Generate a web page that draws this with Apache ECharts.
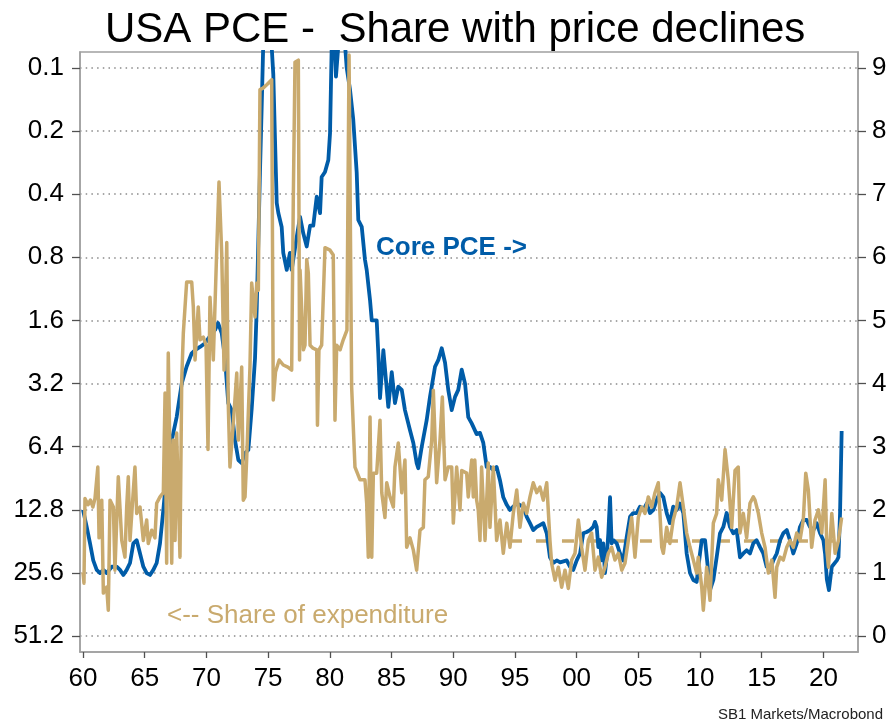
<!DOCTYPE html>
<html>
<head>
<meta charset="utf-8">
<title>USA PCE - Share with price declines</title>
<script src="https://cdn.jsdelivr.net/npm/echarts@6/dist/echarts.min.js"></script>
<style>
  html, body { margin: 0; padding: 0; background: #ffffff; }
  #chart { width: 889px; height: 723px; }
</style>
</head>
<body>
<div id="chart"></div>
<script>
// Core PCE inflation, % y/y (right axis)
const coreYears = [
  1960.00, 1960.30, 1960.57, 1960.83, 1961.11, 1961.38, 1961.65, 1961.92, 1962.33, 1962.73,
  1963.00, 1963.27, 1963.54, 1963.81, 1964.08, 1964.35, 1964.62, 1964.89, 1965.16, 1965.43,
  1965.70, 1965.97, 1966.24, 1966.51, 1966.78, 1967.19, 1967.59, 1968.00, 1968.40, 1968.81,
  1969.08, 1969.48, 1969.89, 1970.29, 1970.70, 1970.94, 1971.24, 1971.51, 1971.77, 1972.05,
  1972.32, 1972.59, 1972.86, 1973.13, 1973.40, 1973.67, 1973.94, 1974.08, 1974.21, 1974.34,
  1974.48, 1974.61, 1974.83, 1975.15, 1975.42, 1975.56, 1975.70, 1975.83, 1976.10, 1976.23,
  1976.51, 1976.77, 1976.91, 1977.32, 1977.59, 1977.85, 1978.13, 1978.40, 1978.66, 1978.94,
  1979.21, 1979.34, 1979.61, 1979.88, 1980.02, 1980.15, 1980.34, 1980.50, 1980.75, 1981.07,
  1981.37, 1981.64, 1981.90, 1982.18, 1982.31, 1982.59, 1982.85, 1982.99, 1983.26, 1983.40,
  1983.80, 1983.93, 1984.07, 1984.34, 1984.74, 1985.02, 1985.28, 1985.55, 1985.83, 1986.09,
  1986.50, 1986.77, 1987.04, 1987.17, 1987.45, 1987.85, 1988.12, 1988.53, 1988.79, 1989.07,
  1989.34, 1989.60, 1989.88, 1990.15, 1990.41, 1990.69, 1990.96, 1991.22, 1991.50, 1991.90,
  1992.17, 1992.44, 1992.71, 1992.98, 1993.25, 1993.52, 1993.79, 1994.06, 1994.34, 1994.60,
  1994.87, 1995.15, 1995.68, 1995.96, 1996.22, 1996.49, 1996.77, 1997.03, 1997.30, 1997.58,
  1997.84, 1998.11, 1998.39, 1998.66, 1999.20, 1999.46, 1999.73, 2000.01, 2000.28, 2000.54,
  2000.82, 2001.09, 2001.35, 2001.49, 2001.63, 2001.76, 2001.90, 2002.03, 2002.16, 2002.30,
  2002.44, 2002.57, 2002.71, 2002.84, 2002.98, 2003.25, 2003.52, 2003.78, 2004.06, 2004.33,
  2004.59, 2004.87, 2005.14, 2005.41, 2005.68, 2005.95, 2006.22, 2006.49, 2006.76, 2007.03,
  2007.30, 2007.56, 2007.83, 2008.11, 2008.38, 2008.65, 2008.92, 2009.19, 2009.46, 2009.73,
  2010.00, 2010.14, 2010.41, 2010.68, 2010.81, 2011.08, 2011.35, 2011.62, 2011.89, 2012.16,
  2012.43, 2012.70, 2012.97, 2013.24, 2013.51, 2013.78, 2014.05, 2014.32, 2014.59, 2014.86,
  2015.13, 2015.40, 2015.67, 2015.94, 2016.22, 2016.49, 2016.75, 2017.03, 2017.29, 2017.56,
  2017.84, 2018.10, 2018.37, 2018.65, 2018.91, 2019.19, 2019.46, 2019.73, 2020.00, 2020.14,
  2020.28, 2020.45, 2020.68, 2020.82, 2021.09, 2021.22, 2021.35, 2021.48
];
const coreValues = [
  2.00, 1.73, 1.47, 1.20, 1.05, 1.00, 1.05, 1.00, 1.10, 1.10,
  1.05, 0.97, 1.05, 1.16, 1.47, 1.52, 1.31, 1.10, 1.00, 0.97,
  1.05, 1.16, 1.47, 2.00, 2.58, 3.10, 3.47, 4.00, 4.27, 4.48,
  4.53, 4.58, 4.64, 4.75, 4.85, 4.96, 4.80, 4.40, 3.69, 3.58,
  3.10, 2.79, 2.74, 2.90, 2.95, 3.60, 4.40, 5.20, 6.27, 7.34,
  8.38, 9.40, 10.00, 9.80, 8.90, 7.86, 6.86, 6.70, 6.48, 6.07,
  5.80, 6.07, 5.80, 6.32, 6.64, 6.38, 6.17, 6.50, 6.50, 6.96,
  6.70, 7.27, 7.35, 7.54, 7.97, 9.30, 9.60, 8.86, 9.50, 9.80,
  9.00, 8.65, 8.18, 7.34, 6.59, 6.48, 5.96, 5.80, 5.32, 5.00,
  5.00, 4.48, 3.77, 4.53, 3.63, 4.18, 3.69, 3.95, 3.90, 3.58,
  3.26, 3.06, 2.74, 2.66, 3.00, 3.42, 3.79, 4.27, 4.37, 4.56,
  4.33, 3.90, 3.58, 3.79, 3.90, 4.22, 4.00, 3.47, 3.37, 3.20,
  3.22, 3.06, 2.68, 2.68, 2.63, 2.68, 2.47, 2.20, 2.08, 2.00,
  2.05, 2.10, 2.05, 1.89, 1.79, 1.68, 1.73, 1.76, 1.79, 1.63,
  1.25, 1.16, 1.20, 1.17, 1.20, 1.10, 1.05, 1.20, 1.31, 1.63,
  1.65, 1.68, 1.73, 1.81, 1.73, 1.41, 1.52, 1.20, 1.47, 1.00,
  1.25, 1.63, 2.20, 1.47, 1.52, 1.47, 1.31, 1.20, 1.57, 1.89,
  1.95, 1.95, 2.05, 2.00, 2.10, 1.95, 2.00, 2.16, 2.27, 2.20,
  1.95, 1.79, 2.05, 2.00, 2.10, 1.95, 1.31, 1.00, 0.89, 0.86,
  1.31, 1.52, 1.52, 1.00, 0.73, 0.89, 1.25, 1.63, 1.73, 1.95,
  1.73, 1.63, 1.68, 1.25, 1.31, 1.36, 1.31, 1.47, 1.52, 1.41,
  1.31, 1.10, 1.05, 1.20, 1.31, 1.52, 1.63, 1.68, 1.52, 1.31,
  1.47, 1.73, 1.84, 1.84, 1.73, 1.68, 1.79, 1.63, 1.52, 1.30,
  0.90, 0.73, 1.10, 1.10, 1.20, 1.25, 1.95, 3.25
];

// Share of expenditure with price declines, % (left axis, inverted log scale)
const shareYears = [
  1960.00, 1960.08, 1960.16, 1960.41, 1960.60, 1960.80, 1960.97, 1961.20, 1961.30, 1961.52,
  1961.65, 1961.92, 1962.05, 1962.19, 1962.46, 1962.59, 1962.86, 1963.14, 1963.40, 1963.54,
  1963.67, 1963.81, 1964.08, 1964.21, 1964.35, 1964.62, 1964.89, 1965.16, 1965.29, 1965.57,
  1965.83, 1965.97, 1966.24, 1966.51, 1966.65, 1966.78, 1966.91, 1967.05, 1967.19, 1967.32,
  1967.46, 1967.59, 1967.86, 1968.00, 1968.13, 1968.40, 1968.81, 1968.94, 1969.08, 1969.34,
  1969.48, 1969.75, 1969.97, 1970.13, 1970.29, 1970.56, 1970.83, 1971.02, 1971.24, 1971.43,
  1971.65, 1971.77, 1971.91, 1972.18, 1972.46, 1972.59, 1972.86, 1972.99, 1973.13, 1973.27,
  1973.53, 1973.67, 1973.80, 1973.94, 1974.08, 1974.21, 1974.34, 1974.59, 1974.91, 1975.29,
  1975.42, 1975.60, 1975.90, 1976.23, 1976.60, 1976.91, 1977.04, 1977.18, 1977.45, 1977.55,
  1977.59, 1977.86, 1977.99, 1978.13, 1978.26, 1978.40, 1978.64, 1978.94, 1979.00, 1979.12,
  1979.34, 1979.61, 1980.02, 1980.28, 1980.42, 1980.56, 1980.83, 1981.09, 1981.39, 1981.56,
  1981.77, 1982.04, 1982.45, 1982.85, 1982.99, 1983.12, 1983.26, 1983.40, 1983.53, 1983.80,
  1984.07, 1984.21, 1984.47, 1984.61, 1984.88, 1985.15, 1985.28, 1985.55, 1985.83, 1986.09,
  1986.23, 1986.50, 1986.77, 1987.04, 1987.31, 1987.58, 1987.71, 1987.98, 1988.26, 1988.39,
  1988.66, 1988.93, 1989.12, 1989.34, 1989.60, 1989.88, 1990.01, 1990.28, 1990.55, 1990.69,
  1991.09, 1991.22, 1991.50, 1991.63, 1991.75, 1991.90, 1992.03, 1992.17, 1992.30, 1992.58,
  1992.84, 1992.98, 1993.25, 1993.52, 1993.79, 1994.06, 1994.34, 1994.60, 1994.87, 1995.15,
  1995.41, 1995.68, 1995.96, 1996.22, 1996.49, 1996.77, 1997.03, 1997.30, 1997.58, 1997.84,
  1997.98, 1998.25, 1998.52, 1998.79, 1999.06, 1999.33, 1999.60, 1999.87, 2000.14, 2000.41,
  2000.68, 2000.95, 2001.22, 2001.49, 2001.76, 2002.03, 2002.30, 2002.57, 2002.84, 2003.11,
  2003.38, 2003.66, 2003.92, 2004.19, 2004.46, 2004.73, 2005.00, 2005.28, 2005.54, 2005.81,
  2006.09, 2006.35, 2006.62, 2006.90, 2007.03, 2007.30, 2007.56, 2007.83, 2008.11, 2008.38,
  2008.65, 2008.92, 2009.19, 2009.46, 2009.73, 2009.86, 2010.14, 2010.27, 2010.54, 2010.81,
  2011.08, 2011.35, 2011.48, 2011.76, 2012.03, 2012.29, 2012.57, 2012.84, 2013.10, 2013.24,
  2013.51, 2013.78, 2014.05, 2014.32, 2014.46, 2014.73, 2015.00, 2015.27, 2015.54, 2015.82,
  2016.08, 2016.22, 2016.49, 2016.75, 2017.03, 2017.29, 2017.56, 2017.84, 2018.10, 2018.37,
  2018.57, 2018.78, 2019.05, 2019.32, 2019.60, 2019.87, 2020.14, 2020.28, 2020.41, 2020.68,
  2020.95, 2021.22, 2021.48
];
const shareValues = [
  25.4, 28.6, 11.3, 12.1, 11.5, 12.4, 11.3, 8.0, 17.4, 11.5,
  31.9, 29.9, 38.5, 11.5, 12.4, 24.8, 8.9, 17.9, 21.5, 12.4,
  8.9, 17.9, 10.3, 8.0, 13.3, 12.4, 17.9, 14.3, 18.5, 16.0,
  17.4, 11.9, 11.1, 10.6, 3.55, 23.0, 2.29, 2.29, 23.0, 5.95,
  17.9, 5.5, 21.5, 3.08, 1.84, 1.05, 1.05, 1.38, 2.47, 1.38,
  1.98, 1.92, 2.1, 6.6, 1.24, 2.47, 0.76, 0.35, 0.76, 2.76,
  0.68, 3.96, 8.0, 4.94, 2.85, 5.95, 2.67, 11.5, 11.1, 7.17,
  2.67, 1.06, 1.28, 1.54, 1.06, 1.15, 0.127, 0.125, 0.12, 0.114,
  3.83, 2.82, 2.47, 2.61, 2.67, 2.76, 0.43, 0.094, 0.092, 2.47,
  0.92, 2.21, 2.1, 0.82, 0.95, 2.1, 2.17, 2.21, 5.05, 2.21,
  2.1, 0.72, 0.74, 0.78, 4.78, 2.1, 2.21, 1.98, 1.78, 0.087,
  3.32, 8.0, 9.2, 9.2, 11.9, 21.5, 4.62, 21.5, 8.55, 8.55,
  4.78, 10.6, 13.9, 9.5, 11.1, 12.4, 8.0, 6.15, 10.6, 7.4,
  19.3, 17.4, 19.9, 24.8, 16.0, 15.5, 9.2, 8.9, 5.95, 3.44,
  9.5, 5.95, 3.71, 9.2, 8.0, 8.0, 14.8, 8.0, 12.8, 8.3,
  8.55, 11.1, 7.4, 11.1, 7.4, 11.5, 12.8, 17.9, 8.0, 17.9,
  7.66, 15.5, 8.0, 17.9, 14.3, 20.6, 14.8, 19.3, 13.3, 10.3,
  15.5, 11.9, 13.3, 11.1, 9.5, 10.6, 9.97, 11.5, 9.5, 17.9,
  23.0, 27.7, 24.0, 29.9, 24.8, 30.3, 22.2, 20.6, 14.3, 19.3,
  24.8, 17.9, 16.5, 24.8, 21.5, 26.8, 24.0, 20.6, 19.3, 22.2,
  20.6, 24.8, 23.0, 17.9, 13.9, 21.5, 13.9, 12.4, 13.3, 11.1,
  12.4, 10.6, 9.5, 19.3, 20.6, 15.5, 18.5, 14.3, 12.4, 9.5,
  12.4, 16.5, 19.3, 22.2, 25.6, 21.5, 29.9, 38.5, 24.0, 34.5,
  14.8, 13.3, 9.2, 11.5, 6.6, 9.2, 15.5, 8.3, 8.0, 16.5,
  13.3, 17.4, 11.9, 11.1, 11.5, 13.3, 16.5, 19.3, 25.6, 22.2,
  33.4, 24.0, 21.5, 22.2, 19.3, 17.9, 19.3, 16.5, 17.9, 14.3,
  8.55, 10.3, 19.3, 14.3, 12.8, 16.5, 9.2, 19.9, 24.0, 13.3,
  20.6, 17.9, 13.9
];

// Average share of expenditure, mid-1990s onwards
const averageYears = [1994.6, 2021.48];
const averageValues = [18.0, 18.0];

// Axis ticks and labels
const xTickYears = [1960, 1965, 1970, 1975, 1980, 1985, 1990, 1995, 2000, 2005, 2010, 2015, 2020];
const xTickLabels = ['60', '65', '70', '75', '80', '85', '90', '95', '00', '05', '10', '15', '20'];
const rightTickValues = [0, 1, 2, 3, 4, 5, 6, 7, 8, 9];
const leftTickLabels = ['0.1', '0.2', '0.4', '0.8', '1.6', '3.2', '6.4', '12.8', '25.6', '51.2'];

const FONT = '"Liberation Sans", Arial, Helvetica, sans-serif';
const BLUE = '#005ca8';
const TAN = '#c9aa6e';
const FRAME = '#a0a0a0';
const TICK = '#505050';

// Both y scales share the same pixel span: 9.5 steps of 1 unit (right) or one doubling (left)
const PAD = 0.25;

function pairs(xs, ys) {
  return xs.map((x, i) => [x, ys[i]]);
}

const chart = echarts.init(document.getElementById('chart'), null, { renderer: 'canvas' });

const labelStyle = { fontFamily: FONT, fontSize: 26, color: '#000' };
const frameLine = { show: true, onZero: false, lineStyle: { color: FRAME, width: 1.5 } };

chart.setOption({
  animation: false,
  backgroundColor: '#ffffff',
  title: {
    text: 'USA PCE -  Share with price declines',
    left: 100,
    top: 4,
    textStyle: { fontFamily: FONT, fontSize: 42, fontWeight: 'normal', color: '#000' }
  },
  grid: {
    left: 80, right: 31, top: 52, bottom: 71,
    show: true,
    borderColor: FRAME,
    borderWidth: 1.5,
    containLabel: false,
    outerBoundsMode: 'none'
  },
  xAxis: {
    type: 'value',
    position: 'bottom',
    min: 1960 - 3 / 12.34,
    max: 1960 + 775 / 12.34,
    axisLine: frameLine,
    axisTick: {
      show: true, inside: false, length: 6,
      customValues: xTickYears,
      lineStyle: { color: TICK, width: 1.3 }
    },
    axisLabel: Object.assign({
      customValues: xTickYears,
      margin: 14,
      formatter: (v) => xTickLabels[xTickYears.indexOf(Math.round(v))]
    }, labelStyle),
    splitLine: { show: false }
  },
  yAxis: [
    {
      // share of expenditure scale (log base 2, inverted)
      type: 'log',
      logBase: 2,
      inverse: true,
      position: 'left',
      min: 0.1 / Math.pow(2, PAD),
      max: 51.2 * Math.pow(2, PAD),
      axisLine: { show: false, onZero: false },
      axisTick: { show: false },
      axisLabel: { show: false },
      splitLine: { show: false },
      minorTick: { show: false },
      minorSplitLine: { show: false }
    },
    {
      // left-hand tick labels, one per doubling
      type: 'value',
      inverse: true,
      position: 'left',
      min: -PAD,
      max: 9 + PAD,
      axisLine: frameLine,
      axisTick: {
        show: true, inside: false, length: 8,
        customValues: rightTickValues,
        lineStyle: { color: TICK, width: 1.3 }
      },
      axisLabel: Object.assign({
        customValues: rightTickValues,
        margin: 16,
        formatter: (v) => leftTickLabels[Math.round(v)]
      }, labelStyle),
      splitLine: { show: false }
    },
    {
      // Core PCE, %
      type: 'value',
      position: 'right',
      min: -PAD,
      max: 9 + PAD,
      axisLine: frameLine,
      axisTick: {
        show: true, inside: false, length: 8,
        customValues: rightTickValues,
        lineStyle: { color: TICK, width: 1.3 }
      },
      axisLabel: Object.assign({
        customValues: rightTickValues,
        margin: 14,
        formatter: (v) => String(Math.round(v))
      }, labelStyle),
      splitLine: {
        show: true,
        lineStyle: { color: '#8a8a8a', width: 1.5, type: [1.5, 4.2] }
      }
    }
  ],
  series: [
    {
      name: 'Average share',
      type: 'line',
      yAxisIndex: 0,
      data: pairs(averageYears, averageValues),
      showSymbol: false,
      symbol: 'none',
      lineStyle: { color: TAN, width: 3.6, type: [12, 14] },
      z: 2
    },
    {
      name: 'Core PCE',
      type: 'line',
      yAxisIndex: 2,
      data: pairs(coreYears, coreValues),
      showSymbol: false,
      symbol: 'none',
      lineStyle: { color: BLUE, width: 3.8, join: 'round' },
      z: 3
    },
    {
      name: 'Share of expenditure',
      type: 'line',
      yAxisIndex: 0,
      data: pairs(shareYears, shareValues),
      showSymbol: false,
      symbol: 'none',
      lineStyle: { color: TAN, width: 3.5, join: 'round' },
      z: 4
    }
  ],
  graphic: [
    {
      type: 'text', left: 376, top: 235, z: 10,
      style: { text: 'Core PCE ->', font: 'bold 26px ' + FONT, fill: BLUE }
    },
    {
      type: 'text', left: 167, top: 603, z: 10,
      style: { text: '<-- Share of expenditure', font: '26px ' + FONT, fill: TAN }
    },
    {
      type: 'text', right: 6, top: 707, z: 10,
      style: { text: 'SB1 Markets/Macrobond', font: '15px ' + FONT, fill: '#222' }
    }
  ]
});
</script>
</body>
</html>
